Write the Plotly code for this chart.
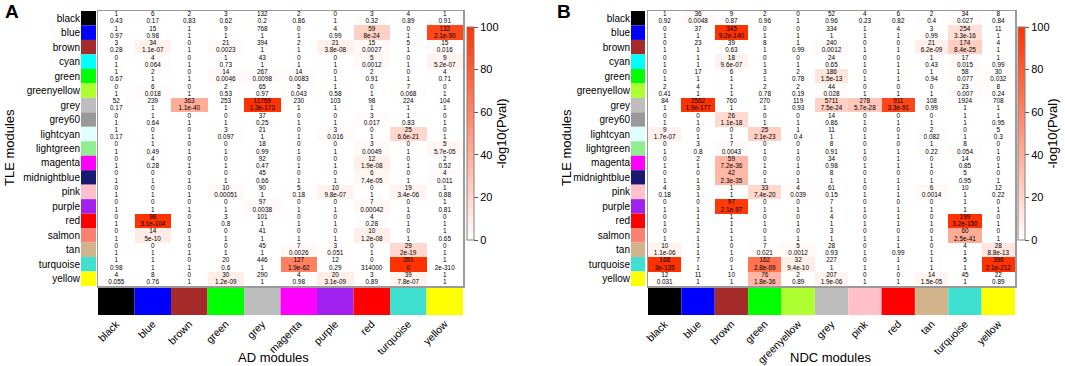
import math
import plotly.graph_objects as go

W, H = 1065, 366
FONT = "Liberation Sans, Arial, Helvetica, sans-serif"

module_colors = {
    "black": "#000000", "blue": "#0000FF", "brown": "#A52A2A", "cyan": "#00FFFF",
    "green": "#00FF00", "greenyellow": "#ADFF2F", "grey": "#BEBEBE", "grey60": "#999999",
    "lightcyan": "#E0FFFF", "lightgreen": "#90EE90", "magenta": "#FF00FF",
    "midnightblue": "#191970", "pink": "#FFC0CB", "purple": "#A020F0", "red": "#FF0000",
    "salmon": "#FA8072", "tan": "#D2B48C", "turquoise": "#40E0D0", "yellow": "#FFFF00",
}

tle_rows = ["black", "blue", "brown", "cyan", "green", "greenyellow", "grey", "grey60",
            "lightcyan", "lightgreen", "magenta", "midnightblue", "pink", "purple", "red",
            "salmon", "tan", "turquoise", "yellow"]

ad_cols = ["black", "blue", "brown", "green", "grey", "magenta", "purple", "red",
           "turquoise", "yellow"]

ad_counts = [
    [1, 6, 2, 3, 132, 2, 0, 3, 4, 1],
    [1, 15, 1, 9, 768, 0, 4, 59, 0, 132],
    [3, 34, 0, 21, 394, 2, 21, 15, 5, 15],
    [0, 4, 0, 1, 43, 0, 0, 5, 0, 9],
    [1, 2, 0, 14, 267, 14, 0, 2, 0, 4],
    [0, 6, 0, 2, 65, 5, 1, 0, 7, 0],
    [52, 239, 363, 253, 11769, 230, 103, 98, 224, 104],
    [0, 1, 0, 0, 37, 0, 0, 3, 1, 0],
    [1, 0, 0, 3, 21, 0, 3, 0, 25, 0],
    [0, 1, 0, 0, 18, 0, 0, 3, 0, 5],
    [0, 4, 0, 0, 92, 0, 0, 12, 0, 2],
    [0, 0, 0, 0, 45, 0, 0, 6, 0, 4],
    [0, 0, 0, 10, 90, 5, 10, 0, 19, 1],
    [0, 0, 0, 0, 97, 0, 0, 7, 0, 1],
    [0, 98, 0, 3, 101, 0, 0, 4, 0, 0],
    [0, 14, 0, 0, 41, 0, 0, 10, 0, 1],
    [0, 0, 0, 0, 45, 7, 3, 0, 29, 0],
    [1, 1, 0, 20, 446, 127, 12, 0, 391, 1],
    [4, 8, 0, 30, 290, 4, 20, 3, 39, 1],
]

ad_pvals = [
    ["0.43", "0.17", "0.83", "0.62", "0.2", "0.86", "1", "0.32", "0.89", "0.91"],
    ["0.97", "0.98", "1", "1", "1", "1", "0.99", "8e-24", "1", "2.1e-90"],
    ["0.28", "1.1e-07", "1", "0.0023", "1", "1", "3.8e-08", "0.0027", "1", "0.016"],
    ["1", "0.064", "1", "0.73", "1", "1", "1", "0.0012", "1", "5.2e-07"],
    ["0.67", "1", "1", "0.0046", "0.0098", "0.0083", "1", "0.91", "1", "0.71"],
    ["1", "0.018", "1", "0.53", "0.97", "0.043", "0.58", "1", "0.068", "1"],
    ["0.17", "1", "1.1e-40", "1", "1.3e-173", "1", "1", "1", "1", "1"],
    ["1", "0.64", "1", "1", "0.25", "1", "1", "0.017", "0.83", "1"],
    ["0.17", "1", "1", "0.097", "1", "1", "0.016", "1", "6.6e-21", "1"],
    ["1", "0.49", "1", "1", "0.99", "1", "1", "0.0049", "1", "5.7e-05"],
    ["1", "0.28", "1", "1", "0.47", "1", "1", "1.9e-08", "1", "0.52"],
    ["1", "1", "1", "1", "0.66", "1", "1", "7.4e-05", "1", "0.011"],
    ["1", "1", "1", "0.00051", "1", "0.18", "9.8e-07", "1", "3.4e-06", "0.88"],
    ["1", "1", "1", "1", "0.0038", "1", "1", "0.00042", "1", "0.81"],
    ["1", "3.1e-104", "1", "0.8", "1", "1", "1", "0.28", "1", "1"],
    ["1", "5e-10", "1", "1", "1", "1", "1", "1.2e-08", "1", "0.65"],
    ["1", "1", "1", "1", "1", "0.0026", "0.051", "1", "2e-19", "1"],
    ["0.98", "1", "1", "0.6", "1", "1.9e-62", "0.29", "314000", "0", "2e-310"],
    ["0.055", "0.76", "1", "1.2e-09", "1", "0.98", "3.1e-09", "0.89", "7.8e-07", "1"],
]

# cells that the reference leaves unshaded despite their printed p-value
ad_unshaded = [("turquoise", "yellow")]

ndc_cols = ["black", "blue", "brown", "green", "greenyellow", "grey", "pink", "red",
            "tan", "turquoise", "yellow"]

ndc_counts = [
    [1, 36, 9, 2, 0, 52, 4, 6, 2, 34, 8],
    [0, 37, 345, 0, 0, 334, 1, 4, 3, 254, 11],
    [0, 23, 39, 8, 1, 240, 0, 0, 21, 174, 4],
    [0, 1, 18, 0, 0, 24, 0, 0, 1, 17, 1],
    [0, 17, 6, 3, 2, 186, 0, 1, 1, 58, 30],
    [2, 4, 1, 2, 2, 44, 0, 0, 0, 23, 8],
    [84, 2562, 760, 270, 119, 5711, 278, 911, 108, 1924, 708],
    [0, 0, 26, 0, 0, 14, 0, 0, 0, 1, 1],
    [9, 0, 0, 25, 1, 11, 0, 0, 2, 0, 5],
    [0, 3, 7, 0, 0, 8, 0, 0, 1, 8, 0],
    [0, 2, 59, 0, 0, 34, 0, 1, 0, 14, 0],
    [0, 0, 42, 0, 0, 8, 0, 0, 0, 5, 0],
    [4, 3, 1, 33, 4, 61, 0, 1, 6, 10, 12],
    [0, 0, 97, 0, 0, 7, 0, 0, 0, 1, 0],
    [0, 1, 1, 0, 0, 4, 0, 1, 0, 199, 0],
    [0, 2, 1, 0, 0, 3, 0, 0, 0, 60, 0],
    [10, 1, 0, 7, 5, 28, 0, 1, 0, 4, 28],
    [168, 7, 0, 162, 32, 227, 0, 1, 1, 5, 396],
    [12, 11, 10, 76, 2, 207, 0, 0, 14, 45, 22],
]

ndc_pvals = [
    ["0.92", "0.0048", "0.87", "0.96", "1", "0.96", "0.23", "0.82", "0.4", "0.027", "0.84"],
    ["1", "1", "9.2e-140", "1", "1", "1", "1", "1", "0.99", "3.3e-16", "1"],
    ["1", "1", "0.63", "1", "0.99", "0.0012", "1", "1", "6.2e-09", "8.4e-25", "1"],
    ["1", "1", "9.6e-07", "1", "1", "0.65", "1", "1", "0.43", "0.015", "0.99"],
    ["1", "1", "1", "1", "0.78", "1.5e-13", "1", "1", "0.94", "0.077", "0.032"],
    ["0.41", "1", "1", "0.78", "0.19", "0.028", "1", "1", "1", "0.007", "0.24"],
    ["1", "1.9e-177", "1", "1", "0.93", "7.5e-24", "5.7e-28", "3.3e-91", "0.99", "1", "1"],
    ["1", "1", "1.1e-18", "1", "1", "0.86", "1", "1", "1", "1", "0.95"],
    ["1.7e-07", "1", "1", "2.1e-23", "0.4", "1", "1", "1", "0.082", "1", "0.3"],
    ["1", "0.8", "0.0043", "1", "1", "0.91", "1", "1", "0.22", "0.054", "1"],
    ["1", "1", "7.2e-36", "1", "1", "0.98", "1", "1", "1", "0.85", "1"],
    ["1", "1", "2.3e-35", "1", "1", "1", "1", "1", "1", "0.95", "1"],
    ["0.18", "1", "1", "7.4e-20", "0.039", "0.15", "1", "1", "0.0014", "1", "0.22"],
    ["1", "1", "2.1e-97", "1", "1", "1", "1", "1", "1", "1", "1"],
    ["1", "1", "1", "1", "1", "1", "1", "1", "1", "3.2e-150", "1"],
    ["1", "1", "1", "1", "1", "1", "1", "1", "1", "2.5e-41", "1"],
    ["1.1e-06", "1", "1", "0.021", "0.0012", "0.93", "1", "0.99", "1", "1", "8.8e-13"],
    ["3e-135", "1", "1", "2.8e-69", "9.4e-10", "1", "1", "1", "1", "1", "2.1e-212"],
    ["0.031", "1", "1", "1.8e-36", "0.89", "1.9e-06", "1", "1", "1.5e-05", "1", "0.89"],
]

ZMAX = 100.0
colorscale = [[0.0, "#FFFFFF"], [1.0, "#FF3300"]]


def neglog(p):
    v = float(p)
    if v <= 0:
        return ZMAX
    return max(0.0, min(ZMAX, -math.log10(v)))


def fx(p):
    return p / W


def fy(p):
    return 1 - p / H


fig = go.Figure()
layout = {}


def add_panel(k, rows, cols, counts, pvals, unshaded, heat_x, strip_x, heat_y, cstrip_y, cb_x):
    ids = [3 * k + 1, 3 * k + 2, 3 * k + 3]
    names = [("x" if i == 1 else f"x{i}", "y" if i == 1 else f"y{i}") for i in ids]
    keys = [("xaxis" if i == 1 else f"xaxis{i}", "yaxis" if i == 1 else f"yaxis{i}") for i in ids]
    n, m = len(rows), len(cols)
    z = [[0.0 if (rows[i], cols[j]) in unshaded else neglog(pvals[i][j])
          for j in range(m)] for i in range(n)]
    (hx, hy), (rx, ry), (cx, cy) = names

    fig.add_trace(go.Heatmap(
        z=z, x=list(range(m)), y=list(range(n)), xaxis=hx, yaxis=hy,
        zmin=0, zmax=ZMAX, colorscale=colorscale, hoverinfo="skip",
        colorbar=dict(
            thickness=7, thicknessmode="pixels", len=213, lenmode="pixels",
            x=fx(cb_x), xanchor="left", y=fy(133.5), yanchor="middle",
            xpad=0, ypad=0, outlinewidth=1, outlinecolor="#808080",
            ticks="outside", ticklen=4, tickcolor="#555555",
            tickvals=[0, 20, 40, 60, 80, 100],
            tickfont=dict(family=FONT, size=11, color="#000000"),
            title=dict(text="-log10(Pval)", side="right",
                       font=dict(family=FONT, size=13, color="#000000")),
        ),
    ))
    xs, ys_c, ys_p, tc, tp = [], [], [], [], []
    for i in range(n):
        for j in range(m):
            xs.append(j)
            ys_c.append(i - 0.25)
            ys_p.append(i + 0.25)
            tc.append(str(counts[i][j]))
            tp.append(pvals[i][j])
    for yy, tt in ((ys_c, tc), (ys_p, tp)):
        fig.add_trace(go.Scatter(
            x=xs, y=yy, text=tt, mode="text", xaxis=hx, yaxis=hy,
            textfont=dict(family=FONT, size=6.4, color="#000000"),
            hoverinfo="skip", cliponaxis=False, showlegend=False,
        ))
    # row colour strip
    fig.add_trace(go.Bar(
        y=list(range(n)), x=[1] * n, orientation="h", width=1,
        marker=dict(color=[module_colors[r] for r in rows], line=dict(width=0)),
        xaxis=rx, yaxis=ry, hoverinfo="skip", showlegend=False,
    ))
    # column colour strip
    fig.add_trace(go.Bar(
        x=list(range(m)), y=[1] * m, width=1,
        marker=dict(color=[module_colors[c] for c in cols], line=dict(width=0)),
        xaxis=cx, yaxis=cy, hoverinfo="skip", showlegend=False,
    ))
    hdom_x = [fx(heat_x[0]), fx(heat_x[1])]
    hdom_y = [fy(heat_y[1]), fy(heat_y[0])]
    frame = dict(showline=True, linecolor="#9a9a9a", linewidth=1.5, mirror=True)
    layout[keys[0][0]] = dict(domain=hdom_x, range=[-0.5, m - 0.5], showgrid=False,
                              zeroline=False, showticklabels=False, ticks="",
                              anchor=hy, **frame)
    layout[keys[0][1]] = dict(domain=hdom_y, range=[n - 0.5, -0.5], showgrid=False,
                              zeroline=False, showticklabels=False, ticks="",
                              anchor=hx, **frame)
    layout[keys[1][0]] = dict(domain=[fx(strip_x[0]), fx(strip_x[1])], range=[0, 1],
                              visible=False, anchor=ry)
    layout[keys[1][1]] = dict(domain=hdom_y, range=[n - 0.5, -0.5], showgrid=False,
                              zeroline=False, ticks="", tickvals=list(range(n)),
                              ticktext=rows, anchor=rx, side="left",
                              tickfont=dict(family=FONT, size=10, color="#000000"))
    layout[keys[2][0]] = dict(domain=hdom_x, range=[-0.5, m - 0.5], showgrid=False,
                              zeroline=False, ticks="", tickvals=list(range(m)),
                              ticktext=cols, tickangle=-45, anchor=cy,
                              tickfont=dict(family=FONT, size=10.5, color="#000000"))
    layout[keys[2][1]] = dict(domain=[fy(cstrip_y[1]), fy(cstrip_y[0])], range=[0, 1],
                              visible=False, anchor=cx)


add_panel(0, tle_rows, ad_cols, ad_counts, ad_pvals, ad_unshaded,
          heat_x=(98, 463), strip_x=(81, 96), heat_y=(11, 286), cstrip_y=(288, 315), cb_x=467)
add_panel(1, tle_rows, ndc_cols, ndc_counts, ndc_pvals, [],
          heat_x=(648, 1015), strip_x=(631, 645), heat_y=(11, 286), cstrip_y=(288, 315), cb_x=1018)

annotations = [
    dict(text="<b>A</b>", x=fx(12), y=fy(11), font=dict(size=19)),
    dict(text="<b>B</b>", x=fx(564), y=fy(11), font=dict(size=19)),
    dict(text="TLE modules", x=fx(9), y=fy(148), textangle=-90, font=dict(size=13)),
    dict(text="TLE modules", x=fx(566), y=fy(148), textangle=-90, font=dict(size=13)),
    dict(text="AD modules", x=fx(273), y=fy(357), font=dict(size=13)),
    dict(text="NDC modules", x=fx(830), y=fy(357), font=dict(size=13)),
]
for a in annotations:
    a.update(xref="paper", yref="paper", showarrow=False, xanchor="center", yanchor="middle")
    a["font"].update(family=FONT, color="#000000")

fig.update_layout(
    width=W, height=H, margin=dict(l=0, r=0, t=0, b=0, autoexpand=False),
    paper_bgcolor="#FFFFFF", plot_bgcolor="#FFFFFF",
    showlegend=False, barmode="overlay", annotations=annotations,
    font=dict(family=FONT, color="#000000"),
    **layout,
)

fig.write_html("out.html", config={"displayModeBar": False, "staticPlot": True},
               post_script="document.body.style.margin='0px';document.body.style.overflow='hidden';")
